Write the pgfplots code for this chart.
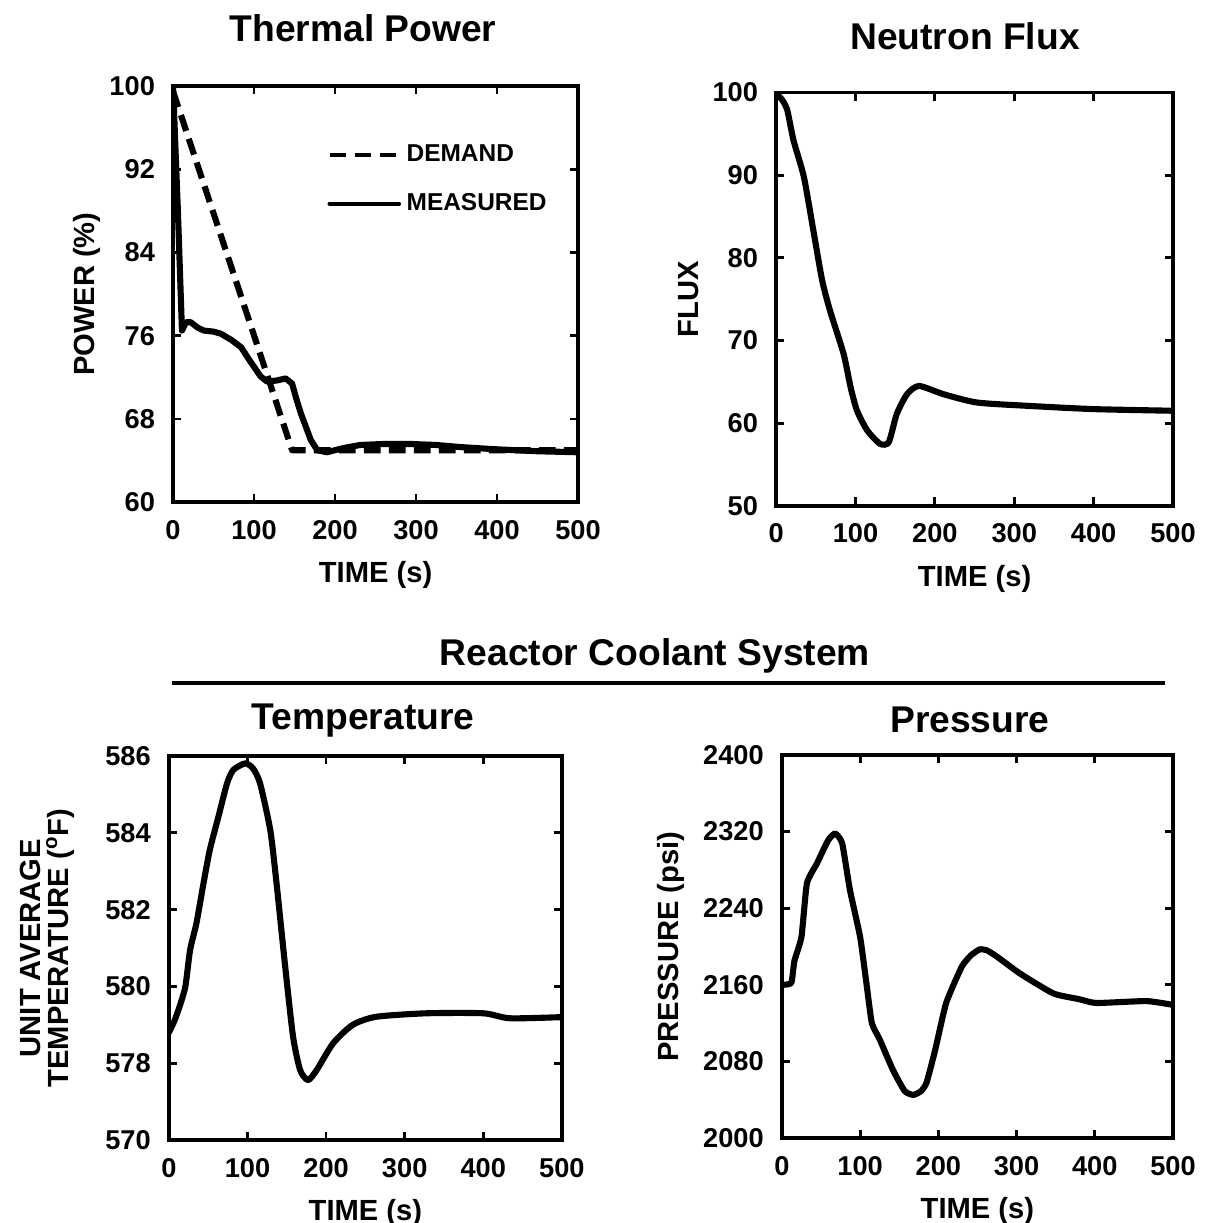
\documentclass[border=0pt]{standalone}
\usepackage{fontspec}
\setmainfont{Liberation Sans}
\usepackage{pgfplots}
\pgfplotsset{compat=1.18}

\pgfplotsset{
  panel/.style={
    scale only axis,
    anchor=north west,
    xmin=0, xmax=500,
    xtick={0,100,...,500},
    axis line style={line width=1.4pt},
    major tick length=3pt,
    every tick/.style={black, line width=1pt},
    tick align=inside,
    /pgf/number format/assume math mode=true,
    /pgf/number format/set thousands separator={},
    scaled ticks=false,
    tick label style={font=\fontsize{9.8}{10}\selectfont\bfseries},
    label style={font=\fontsize{10.5}{11}\selectfont\bfseries},
    xticklabel style={yshift=-3pt},
    yticklabel style={xshift=-3pt},
    xlabel={TIME (s)},
    xlabel shift=1pt,
  },
  curve/.style={black, line width=2.2pt, line join=round, line cap=round},
}

\begin{document}
\begin{tikzpicture}
\useasboundingbox (0,0) rectangle (439.2pt,-440.3pt);

\node[font=\fontsize{13.4}{14}\selectfont\bfseries] at (130.7pt,-10.1pt) {Thermal Power};
\node[font=\fontsize{13.4}{14}\selectfont\bfseries] at (347.4pt,-13pt) {Neutron Flux};
\node[font=\fontsize{13.4}{14}\selectfont\bfseries] at (235.8pt,-236.2pt) {Reactor Coolant System};
\draw[line width=1.4pt] (62pt,-245.9pt) -- (419.4pt,-245.9pt);
\node[font=\fontsize{13.4}{14}\selectfont\bfseries] at (130.7pt,-259.3pt) {Temperature};
\node[font=\fontsize{13.4}{14}\selectfont\bfseries] at (349.2pt,-259.3pt) {Pressure};

% thermal power
\begin{axis}[panel,
  at={(62.3pt,-31pt)}, width=145.8pt, height=149.8pt,
  ymin=60, ymax=100, ytick={60,68,...,100},
  ylabel={POWER (\%)}, ylabel shift=-3.6pt,
  legend style={at={(0.38,0.875)}, anchor=north west, draw=none, fill=none,
    font=\fontsize{8.8}{9}\selectfont\bfseries, row sep=6pt, inner sep=0pt,
    nodes={inner sep=2pt}},
  legend cell align=left,
  legend image code/.code={\draw[#1, line width=1.5pt] (0pt,0pt) -- (25pt,0pt);},
]
\addplot[curve, dash pattern=on 6pt off 3pt, line cap=butt]
  coordinates {(0,99.5) (147,65) (500,65)};
\addlegendentry{DEMAND}
\addplot[curve] coordinates {
  (0,100) (6,88) (11,76.5) (16,77.3) (22,77.3) (30,76.8) (38,76.5) (50,76.4)
  (59,76.2) (72,75.6) (84,74.9) (94,73.7) (108,72.1) (116,71.6) (128,71.7)
  (139,71.9) (147,71.4) (152,70.0) (158,68.5) (170,66.0) (178,65.0) (190,64.8)
  (210,65.2) (231,65.5) (260,65.6) (293,65.6) (325,65.5) (355,65.3) (396,65.1)
  (450,64.9) (500,64.8)};
\addlegendentry{MEASURED}
\end{axis}

% neutron flux
\begin{axis}[panel,
  at={(279.4pt,-33.3pt)}, width=142.9pt, height=148.8pt,
  ymin=50, ymax=100, ytick={50,60,...,100},
  ylabel={FLUX}, ylabel shift=-1.8pt,
]
\addplot[curve, smooth, tension=0.4] coordinates {
  (0,99.8) (7,99.2) (14,97.9) (22,94.2) (35,89.8) (47,83.3) (58,77.3)
  (68,73.6) (85,68.4) (94,64.3) (102,61.5) (115,59.1) (131,57.5) (142,57.7)
  (152,61.1) (165,63.5) (180,64.5) (211,63.5) (253,62.5) (316,62.1)
  (400,61.7) (500,61.5)};
\end{axis}

% temperature
\begin{axis}[panel,
  at={(60.8pt,-272.2pt)}, width=141.5pt, height=138.2pt,
  ymin=576, ymax=586, ytick={576,578,...,586},
  yticklabels={570,578,580,582,584,586},
  ylabel={UNIT AVERAGE\\TEMPERATURE (\textsuperscript{o}F)}, ylabel shift=4.3pt,
  ylabel style={align=center, font=\fontsize{10.5}{10}\selectfont\bfseries},
]
\addplot[curve, smooth, tension=0.4] coordinates {
  (0,578.8) (7,579.1) (14,579.5) (21,580.0) (27,580.95) (35,581.64) (44,582.68)
  (52,583.55) (63,584.42) (74,585.29) (82,585.64) (97,585.81) (107,585.68)
  (116,585.29) (129,584.07) (137,582.68) (148,580.51) (158,578.69) (167,577.82)
  (177,577.56) (188,577.82) (209,578.52) (234,579.0) (264,579.21) (328,579.3)
  (400,579.3) (434,579.17) (500,579.2)};
\end{axis}

% pressure
\begin{axis}[panel,
  at={(281.5pt,-271.8pt)}, width=140.8pt, height=137.9pt,
  ymin=2000, ymax=2400, ytick={2000,2080,...,2400},
  ylabel={PRESSURE (psi)},
]
\addplot[curve, smooth, tension=0.3] coordinates {
  (0,2160) (12,2162) (16,2185) (25,2210) (32,2266) (45,2287) (53,2301)
  (60,2312) (68,2318) (77,2308) (87,2259) (100,2210) (108,2162) (115,2120)
  (125,2103) (142,2071) (157,2049) (168,2045) (178,2049) (185,2058) (196,2092)
  (210,2141) (230,2179) (242,2191) (253,2197) (262,2196) (274,2190) (304,2172)
  (347,2151) (380,2145) (402,2141) (466,2143) (500,2139)};
\end{axis}
\end{tikzpicture}
\end{document}
